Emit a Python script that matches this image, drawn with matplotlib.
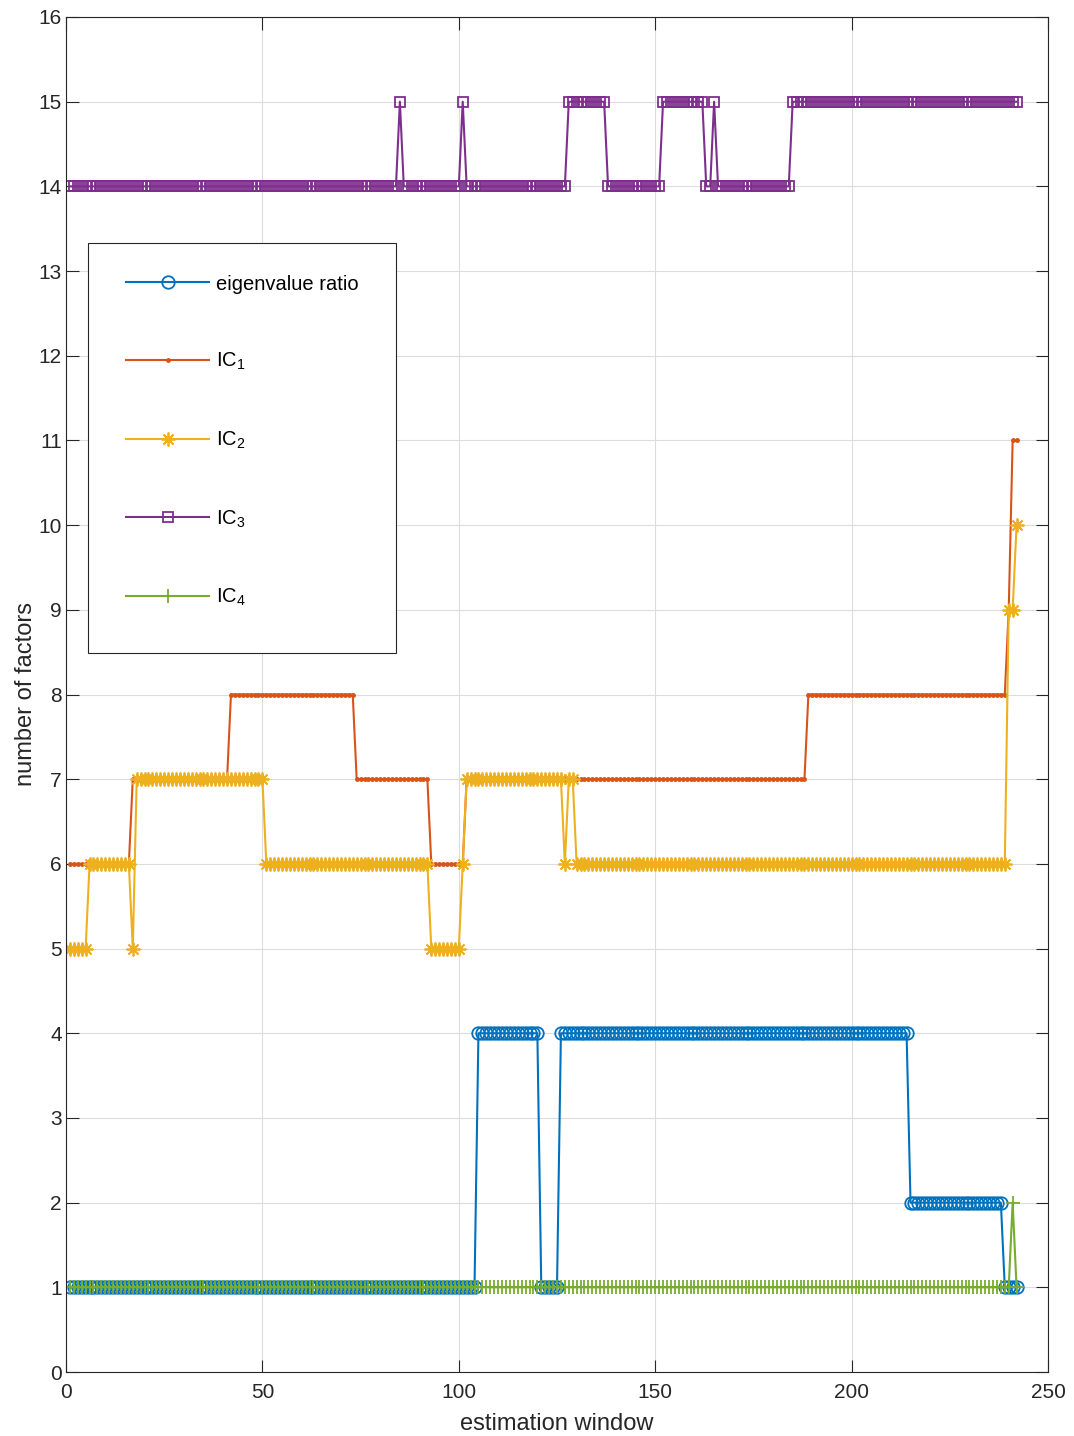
import numpy as np
import matplotlib
matplotlib.use("Agg")
import matplotlib.pyplot as plt
from matplotlib.patches import Rectangle

plt.rcParams['font.family'] = ['Liberation Sans', 'DejaVu Sans']
plt.rcParams['mathtext.default'] = 'regular'

# estimation windows
windows = np.arange(1, 243)

# run-length data: levels and how many consecutive windows hold them
eig_levels = [1, 4, 1, 4, 2, 1]
eig_runs = [104, 16, 5, 89, 24, 4]

ic1_levels = [6, 7, 8, 7, 6, 7, 8, 9, 11]
ic1_runs = [16, 25, 32, 19, 9, 87, 51, 1, 2]

ic2_levels = [5, 6, 5, 7, 6, 5, 6, 7, 6, 7, 6, 9, 10]
ic2_runs = [5, 11, 1, 33, 42, 8, 1, 25, 1, 2, 110, 2, 1]

ic3_levels = [14, 15, 14, 15, 14, 15, 14, 15, 14, 15, 14, 15]
ic3_runs = [84, 1, 15, 1, 26, 10, 14, 11, 2, 1, 19, 58]

ic4_levels = [1, 2, 1]
ic4_runs = [240, 1, 1]

labels = ['eigenvalue ratio', r'IC$_1$', r'IC$_2$', r'IC$_3$', r'IC$_4$']
xticks = [0, 50, 100, 150, 200, 250]
yticks = list(range(0, 17))

eig = np.repeat(eig_levels, eig_runs)
ic1 = np.repeat(ic1_levels, ic1_runs)
ic2 = np.repeat(ic2_levels, ic2_runs)
ic3 = np.repeat(ic3_levels, ic3_runs)
ic4 = np.repeat(ic4_levels, ic4_runs)

W, H = 1074, 1436
fig = plt.figure(figsize=(W/100, H/100), dpi=100)
ax = fig.add_axes([66/W, 1 - 1372/H, (1048-66)/W, (1372-17)/H])

lw = 1.5
ax.plot(windows, eig, color='#0072BD', lw=lw, marker='o', ms=9, mfc='none', mew=1.3, label=labels[0])
ax.plot(windows, ic1, color='#D95319', lw=lw, marker='.', ms=5, label=labels[1])
ax.plot(windows, ic2, color='#EDB120', lw=lw, marker=(8, 2, 0), ms=10, mew=1.3, label=labels[2])
ax.plot(windows, ic3, color='#7E2F8E', lw=lw, marker='s', ms=7.5, mfc='none', mew=1.3, label=labels[3])
ax.plot(windows, ic4, color='#77AC30', lw=lw, marker='+', ms=10, mew=1.3, label=labels[4])

ax.set_xlim(0, 250)
ax.set_ylim(0, 16)
ax.set_xticks(xticks)
ax.set_yticks(yticks)
ax.tick_params(direction='in', length=9, width=0.8, top=True, right=True,
               labelsize=15, colors='#262626')
ax.tick_params(axis='x', pad=8)
ax.tick_params(axis='y', pad=3)
for s in ax.spines.values():
    s.set_color('#262626')
    s.set_linewidth(0.8)
ax.grid(True, color='#dcdcdc', lw=0.8)
ax.set_axisbelow(True)

ax.set_xlabel('estimation window', fontsize=17, color='#262626', labelpad=8)
ax.set_ylabel('number of factors', fontsize=17, color='#262626', labelpad=1)

# legend frame
frame = Rectangle((88/W, 1 - 653/H), (396-88)/W, (653-243)/H, transform=fig.transFigure,
                  facecolor='white', edgecolor='#262626', lw=0.8, zorder=4.5, clip_on=False)
ax.add_patch(frame)

leg = ax.legend(loc='upper left', bbox_to_anchor=(0.0224, 0.8382), borderaxespad=0,
                fontsize=14.5, labelspacing=2.85, handlelength=4.1, handletextpad=0.35,
                borderpad=1.9, numpoints=1, frameon=False)
leg.set_zorder(5)
for t in leg.get_texts():
    t.set_color('#000000')

fig.savefig('out.png', dpi=100)
